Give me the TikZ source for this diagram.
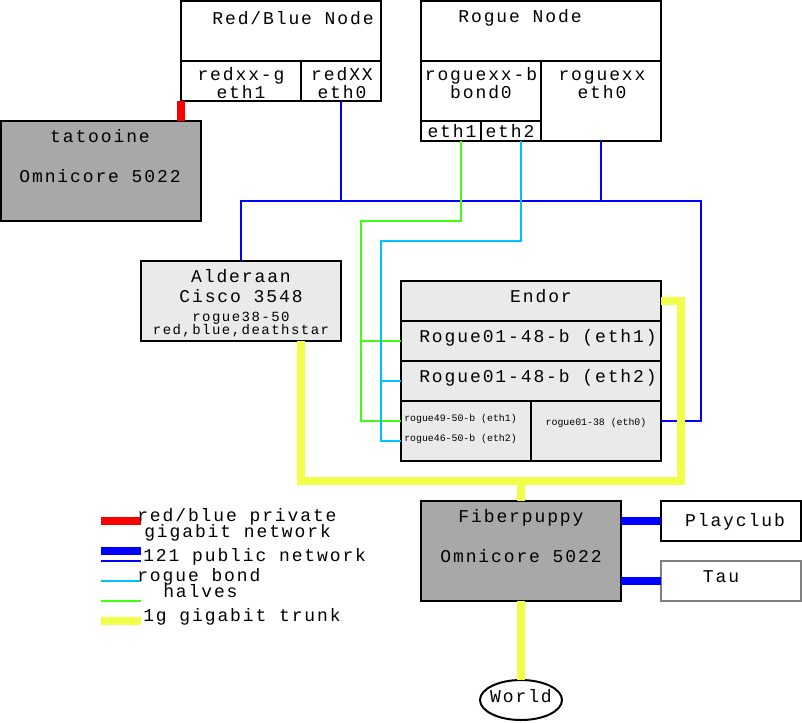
\documentclass[tikz,border=0pt]{standalone}
\usepackage{fontspec}
\usetikzlibrary{shapes.geometric}
\newfontfamily\monow[LetterSpace=10.5]{Liberation Mono}
\newfontfamily\monon{Liberation Mono}
\definecolor{cRed}{RGB}{255,0,0}
\definecolor{cBlue}{RGB}{0,0,255}
\definecolor{cCyan}{RGB}{0,192,255}
\definecolor{cGreen}{RGB}{64,255,16}
\definecolor{cYellow}{RGB}{242,255,72}
\definecolor{cDark}{RGB}{168,168,168}
\definecolor{cLight}{RGB}{234,234,234}
\definecolor{cTau}{RGB}{128,128,128}
\tikzset{
  box/.style={draw, line width=1.5pt, inner sep=0pt, outer sep=0pt},
  divider/.style={line width=1.5pt},
  lbl/.style={inner sep=0pt, anchor=base, font=\fontsize{13.5}{15}\monow},
  lbls/.style={inner sep=0pt, anchor=base, font=\fontsize{10.5}{12}\monow},
  lblt/.style={inner sep=0pt, anchor=base, font=\fontsize{7.4}{9}\monon},
  thinblue/.style={draw=cBlue, line width=1.5pt},
  thingreen/.style={draw=cGreen, line width=1.5pt},
  thincyan/.style={draw=cCyan, line width=1.5pt},
  thickred/.style={draw=cRed, line width=5.5pt},
  thickblue/.style={draw=cBlue, line width=5.5pt},
  trunk/.style={draw=cYellow, line width=6pt},
}
\begin{document}
\begin{tikzpicture}[x=0.75pt,y=-0.75pt]
\useasboundingbox (0,0) rectangle (802,722);

% ---------- boxes ----------
\node[box, minimum width=150pt, minimum height=75pt] (rb) at (281,51) {};
\node[box, fill=cDark, minimum width=150pt, minimum height=75pt] (tat) at (101,171) {};
\node[box, minimum width=180pt, minimum height=105pt] (rg) at (541,71) {};
\node[box, fill=cLight, minimum width=150pt, minimum height=60pt] (ald) at (241,301) {};
\node[box, fill=cLight, minimum width=195pt, minimum height=135pt] (endor) at (531,371) {};
\node[box, fill=cDark, minimum width=150pt, minimum height=75pt] (fp) at (521,551) {};
\node[box, minimum width=105pt, minimum height=30pt] (play) at (731,521) {};
\node[box, draw=cTau, minimum width=105pt, minimum height=30pt] (tau) at (731,581) {};
\node[box, ellipse, minimum width=61.5pt, minimum height=30pt] (world) at (521,700) {};

% ---------- dividers ----------
\draw[divider] (181,61) -- (381,61);
\draw[divider] (301,61) -- (301,101);
\draw[divider] (421,61) -- (661,61);
\draw[divider] (541,61) -- (541,141);
\draw[divider] (421,121) -- (541,121);
\draw[divider] (481,121) -- (481,141);
\draw[divider] (401,321) -- (661,321);
\draw[divider] (401,361) -- (661,361);
\draw[divider] (401,401) -- (661,401);
\draw[divider] (531,401) -- (531,461);

% ---------- texts ----------
\node[lbl] (t1) at (293,24) {Red/Blue Node};
\node[lbl] (t2) at (241,80) {redxx-g};
\node[lbl] (t3) at (241,98) {eth1};
\node[lbl] (t4) at (342,80) {redXX};
\node[lbl] (t5) at (342,98) {eth0};
\node[lbl] (t6) at (520,22) {Rogue Node};
\node[lbl] (t7) at (481,80) {roguexx-b};
\node[lbl] (t8) at (481,98) {bond0};
\node[lbl] (t9) at (602,80) {roguexx};
\node[lbl] (t10) at (602,98) {eth0};
\node[lbl] (t11) at (452,137) {eth1};
\node[lbl] (t12) at (510,137) {eth2};
\node[lbl] (t13) at (100,142) {tatooine};
\node[lbl] (t14) at (100,182) {Omnicore 5022};
\node[lbl] (t15) at (241,282) {Alderaan};
\node[lbl] (t16) at (241,302) {Cisco 3548};
\node[lbls] (t17) at (241,321) {rogue38-50};
\node[lbls] (t18) at (241,334) {red,blue,deathstar};
\node[lbl] (t19) at (541,302) {Endor};
\node[lbl] (t20) at (538,342) {Rogue01-48-b (eth1)};
\node[lbl] (t21) at (538,382) {Rogue01-48-b (eth2)};
\node[lblt, anchor=base west] (t22) at (404,421) {rogue49-50-b (eth1)};
\node[lblt, anchor=base west] (t23) at (404,441) {rogue46-50-b (eth2)};
\node[lblt] (t24) at (596,425) {rogue01-38 (eth0)};
\node[lbl] (t25) at (521,522) {Fiberpuppy};
\node[lbl] (t26) at (521,562) {Omnicore 5022};
\node[lbl] (t27) at (735,526) {Playclub};
\node[lbl] (t28) at (721,582) {Tau};
\node[lbl] (t29) at (521,702) {World};

% ---------- port coordinates ----------
\coordinate (rbeth0) at (341,101);
\coordinate (rgeth0) at (601,141);
\coordinate (rgeth1) at (461,141);
\coordinate (rgeth2) at (521,141);
\coordinate (busR) at (701,201);
\coordinate (enE0) at (661,421);
\coordinate (en1) at (401,341);
\coordinate (en2) at (401,381);
\coordinate (en3) at (401,421);
\coordinate (en4) at (401,441);
\coordinate (enTrunk) at (661,301);
\coordinate (trunkBL) at (301,481);
\coordinate (trunkBR) at (681,481);

% ---------- connectors ----------
\draw[thickred] (rb.south west) -- (tat.north -| rb.south west);
\draw[thinblue] (rbeth0) -- (rbeth0 |- busR);
\draw[thinblue] (rgeth0) -- (rgeth0 |- busR);
\draw[thinblue] (ald.north) |- (busR) -- (busR |- enE0) -- (enE0);

\draw[thingreen] (rgeth1) -- (461,221) -- (361,221) |- (en3);
\draw[thingreen] (361,341) -- (en1);
\draw[thincyan] (rgeth2) -- (521,241) -- (381,241) |- (en4);
\draw[thincyan] (381,381) -- (en2);

\draw[trunk] (ald.south -| trunkBL) -- (trunkBL) -- (trunkBR) -- (trunkBR |- enTrunk) -- (enTrunk);
\draw[trunk] (fp.north |- trunkBL) -- (fp.north);
\draw[trunk] (fp.south) -- (world.north);
\draw[thickblue] (fp.east |- play.west) -- (play.west);
\draw[thickblue] (fp.east |- tau.west) -- (tau.west);

% ---------- legend ----------
\draw[thickred] (101,521) -- (141,521);
\draw[draw=cBlue, line width=6pt] (101,551) -- (141,551);
\draw[thinblue] (101,561) -- (141,561);
\draw[thincyan] (101,581) -- (141,581);
\draw[thingreen] (101,601) -- (141,601);
\draw[trunk] (101,621) -- (141,621);
\node[lbl, anchor=base west] (l1) at (137,521) {red/blue private};
\node[lbl, anchor=base west] (l2) at (144,537) {gigabit network};
\node[lbl, anchor=base west] (l3) at (143,561) {121 public network};
\node[lbl, anchor=base west] (l4) at (137,581) {rogue bond};
\node[lbl, anchor=base west] (l5) at (163,597) {halves};
\node[lbl, anchor=base west] (l6) at (143,621) {1g gigabit trunk};
\end{tikzpicture}
\end{document}
